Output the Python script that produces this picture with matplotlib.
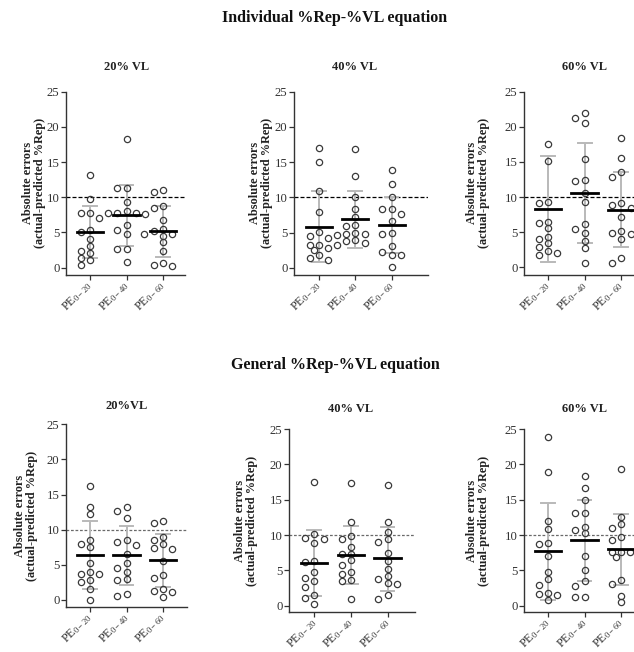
import matplotlib
matplotlib.use("Agg")
import matplotlib.pyplot as plt
import numpy as np

plt.rcParams['font.family'] = ['Liberation Serif', 'DejaVu Serif']
plt.rcParams['mathtext.fontset'] = 'custom'
plt.rcParams['mathtext.rm'] = 'Liberation Serif'
plt.rcParams['mathtext.it'] = 'Liberation Serif:italic'
plt.rcParams['mathtext.bf'] = 'Liberation Serif:bold'

# ---------------- data ----------------
categories = [r'PE$_{\mathrm{0-20}}$', r'PE$_{\mathrm{0-40}}$', r'PE$_{\mathrm{0-60}}$']
yticks = [0, 5, 10, 15, 20, 25]
reference_line = 10

row_titles = ['Individual %Rep-%VL equation', 'General %Rep-%VL equation']
panel_titles = ['20% VL', '40% VL', '60% VL', '20%VL', '40% VL', '60% VL']

# Individual equation, 20% VL
ind20_pe20 = [13.1, 9.7, 7.8, 7.7, 7.1, 5.3, 5.0, 4.0, 3.0, 2.4, 2.1, 1.4, 1.0, 0.4]
ind20_pe40 = [18.3, 11.3, 11.3, 9.3, 8.0, 7.8, 7.8, 7.8, 7.6, 6.1, 5.3, 4.8, 2.6, 2.6, 0.8]
ind20_pe60 = [11.0, 10.8, 8.8, 8.4, 6.8, 5.5, 5.2, 4.7, 4.7, 4.5, 3.6, 2.3, 0.7, 0.3, 0.2]
ind20_mean = [5.0, 7.4, 5.2]
ind20_low = [1.3, 3.0, 1.5]
ind20_high = [8.7, 11.8, 8.8]

# Individual equation, 40% VL
ind40_pe20 = [17.0, 15.1, 10.9, 7.9, 5.1, 4.6, 4.3, 3.2, 3.2, 2.9, 2.5, 1.8, 1.4, 1.1]
ind40_pe40 = [16.9, 13.0, 10.1, 8.4, 7.2, 6.1, 6.0, 4.9, 4.8, 4.8, 4.7, 4.0, 3.8, 3.5, 3.2]
ind40_pe60 = [13.9, 11.9, 10.1, 8.4, 8.4, 7.7, 6.6, 5.0, 4.8, 3.1, 2.3, 1.8, 1.8, 0.2]
ind40_mean = [5.85, 6.9, 6.1]
ind40_low = [0.8, 2.9, 2.1]
ind40_high = [10.9, 10.9, 10.1]

# Individual equation, 60% VL
ind60_pe20 = [17.6, 15.1, 9.3, 9.1, 6.5, 6.3, 5.6, 4.3, 4.1, 3.4, 2.9, 2.3, 2.1, 1.7]
ind60_pe40 = [22.0, 21.2, 20.6, 15.4, 12.4, 12.3, 10.6, 9.3, 6.2, 5.5, 4.9, 3.8, 2.8, 0.6]
ind60_pe60 = [18.4, 15.5, 13.5, 12.9, 9.1, 8.8, 8.5, 7.1, 5.1, 4.9, 4.7, 4.0, 1.3, 0.6]
ind60_mean = [8.3, 10.6, 8.1]
ind60_low = [0.8, 3.4, 2.9]
ind60_high = [15.8, 17.7, 13.5]

# General equation, 20% VL
gen20_pe20 = [16.2, 13.3, 12.3, 8.6, 7.9, 7.5, 5.2, 4.0, 3.7, 3.65, 2.9, 2.6, 1.6, 0.05]
gen20_pe40 = [13.3, 12.7, 11.7, 8.5, 8.3, 7.8, 6.5, 5.2, 4.5, 4.0, 3.0, 2.85, 0.85, 0.55]
gen20_pe60 = [11.3, 10.9, 8.9, 8.6, 8.0, 7.35, 7.3, 5.6, 3.6, 3.2, 1.6, 1.3, 1.1, 0.4]
gen20_mean = [6.4, 6.4, 5.65]
gen20_low = [1.5, 2.2, 1.8]
gen20_high = [11.2, 10.5, 9.4]

# General equation, 40% VL
gen40_pe20 = [17.5, 10.2, 9.6, 9.4, 8.9, 6.3, 6.2, 4.7, 3.9, 3.5, 2.7, 1.5, 1.1, 0.3]
gen40_pe40 = [17.4, 11.9, 9.8, 9.45, 8.35, 7.35, 7.35, 6.4, 5.8, 4.7, 4.55, 3.7, 3.5, 0.9]
gen40_pe60 = [17.1, 11.8, 10.4, 9.5, 9.0, 7.5, 6.3, 5.15, 4.25, 3.75, 3.15, 3.1, 1.45, 1.0]
gen40_mean = [6.1, 7.15, 6.7]
gen40_low = [1.4, 3.1, 2.15]
gen40_high = [10.7, 11.3, 11.2]

# General equation, 60% VL
gen60_pe20 = [23.9, 18.9, 12.0, 10.9, 8.9, 8.7, 7.05, 4.7, 3.75, 2.9, 1.8, 1.7, 1.45, 0.75]
gen60_pe40 = [18.4, 16.6, 15.0, 13.1, 13.1, 11.2, 10.7, 10.3, 7.0, 5.0, 3.5, 2.8, 1.3, 1.2]
gen60_pe60 = [19.4, 12.6, 11.6, 11.0, 9.7, 9.3, 7.6, 7.6, 7.6, 6.9, 3.7, 3.0, 1.4, 0.5]
gen60_mean = [7.7, 9.25, 8.0]
gen60_low = [0.75, 3.5, 2.95]
gen60_high = [14.6, 15.0, 13.0]

panels_data = [
    ([ind20_pe20, ind20_pe40, ind20_pe60], ind20_mean, ind20_low, ind20_high),
    ([ind40_pe20, ind40_pe40, ind40_pe60], ind40_mean, ind40_low, ind40_high),
    ([ind60_pe20, ind60_pe40, ind60_pe60], ind60_mean, ind60_low, ind60_high),
    ([gen20_pe20, gen20_pe40, gen20_pe60], gen20_mean, gen20_low, gen20_high),
    ([gen40_pe20, gen40_pe40, gen40_pe60], gen40_mean, gen40_low, gen40_high),
    ([gen60_pe20, gen60_pe40, gen60_pe60], gen60_mean, gen60_low, gen60_high),
]

# ---------------- layout (pixels) ----------------
W, H = 634, 652
# left spine x, first category x, category spacing, right end x, y of 25, y of 0, y of x-axis, ylabel right x
layout = [
    (66, 90, 36.5, 185, 91.7, 267.5, 275, 46),
    (294, 319, 36.3, 428, 91.7, 268.0, 275, 273),
    (524, 548, 36.6, 660, 91.7, 267.3, 275, 490),
    (66, 90, 36.5, 187, 424.3, 600.0, 607, 38),
    (289, 314.3, 36.6, 415, 429.0, 605.7, 612, 258),
    (524, 548, 36.5, 660, 429.0, 605.7, 612, 490),
]
title_pos = [(127, 67), (355, 67), (584, 67), (127, 406), (351, 409), (584, 409)]
row_title_pos = [(335, 18), (335, 365)]

fig = plt.figure(figsize=(W / 100, H / 100), dpi=100)
fig.patch.set_facecolor('white')

edge = '#3a3a3a'
bar_gray = '#b9b9b9'


def swarm_offsets_px(vals, ppu, dmin=6.3, col=9.3):
    """Simple beeswarm in pixel space, preferring centre and +/- one column."""
    cands = [0, -col, col, -col / 2, col / 2, -1.5 * col, 1.5 * col, -2 * col, 2 * col]
    order = np.argsort(vals)[::-1]
    placed = []
    offs = np.zeros(len(vals))
    for i in order:
        vy = vals[i] * ppu
        chosen = None
        for c in cands:
            if all((c - px) ** 2 + (vy - py) ** 2 >= dmin ** 2 for px, py in placed):
                chosen = c
                break
        if chosen is None:
            chosen = 0
        offs[i] = chosen
        placed.append((chosen, vy))
    return offs


for k, (lay, pdata) in enumerate(zip(layout, panels_data)):
    left, cat0, sp, right, y25, y0, ybot, ylab_x = lay
    groups, means, lows, highs = pdata
    ax = fig.add_axes([left / W, 1 - ybot / H, (right - left) / W, (ybot - y25) / H])
    ax.set_facecolor('none')
    ppu = (y0 - y25) / 25.0
    ax.set_ylim(-(ybot - y0) / ppu, 25)
    ax.set_xlim(-(cat0 - left) / sp, (right - cat0) / sp)

    for j, vals in enumerate(groups):
        vals = np.array(vals, dtype=float)
        offs = swarm_offsets_px(vals, ppu) / sp
        ax.plot(j + offs, vals, 'o', ms=4.5, mfc='none', mec=edge, mew=0.9,
                zorder=3, clip_on=False)
        # error bar (SD)
        ax.plot([j, j], [lows[j], highs[j]], color=bar_gray, lw=1.4, zorder=2, solid_capstyle='butt')
        for yv in (lows[j], highs[j]):
            ax.plot([j - 0.19, j + 0.19], [yv, yv], color=bar_gray, lw=1.4, zorder=2)
        ax.plot([j - 0.36, j + 0.36], [means[j], means[j]], color='black', lw=2.0, zorder=4)

    if k < 3:
        ax.axhline(reference_line, color='black', lw=0.9, ls=(0, (3.2, 1.6)), zorder=1)
    else:
        ax.axhline(reference_line, color='#6a6a6a', lw=0.9, ls=(0, (2.2, 1.4)), zorder=1)

    for s in ['top', 'right']:
        ax.spines[s].set_visible(False)
    for s in ['left', 'bottom']:
        ax.spines[s].set_color('#333333')
        ax.spines[s].set_linewidth(1.0)
    ax.set_yticks(yticks)
    ax.set_yticklabels([str(t) for t in yticks], fontsize=9.2, color='#333333')
    ax.set_xticks(range(3))
    ax.set_xticklabels(categories, fontsize=8.8, color='#333333', rotation=45,
                       ha='right', va='center', rotation_mode='anchor')
    ax.tick_params(axis='y', length=3.5, width=0.9, color='#333333', pad=1.2)
    ax.tick_params(axis='x', length=3.5, width=0.9, color='#333333', pad=2.5)

    ax.set_ylabel('Absolute errors\n(actual-predicted %Rep)', fontsize=8.8,
                  fontweight='bold', linespacing=1.05, color='#222222')
    ax.yaxis.set_label_coords(-(left - ylab_x) / (right - left), 0.5)

    tx, ty = title_pos[k]
    fig.text(tx / W, 1 - ty / H, panel_titles[k], ha='center', va='center',
             fontsize=9, fontweight='bold', color='#222222')

for (tx, ty), t in zip(row_title_pos, row_titles):
    fig.text(tx / W, 1 - ty / H, t, ha='center', va='center', fontsize=11.5,
             fontweight='bold', color='#111111')

fig.savefig('out.png', dpi=100, facecolor='white')
